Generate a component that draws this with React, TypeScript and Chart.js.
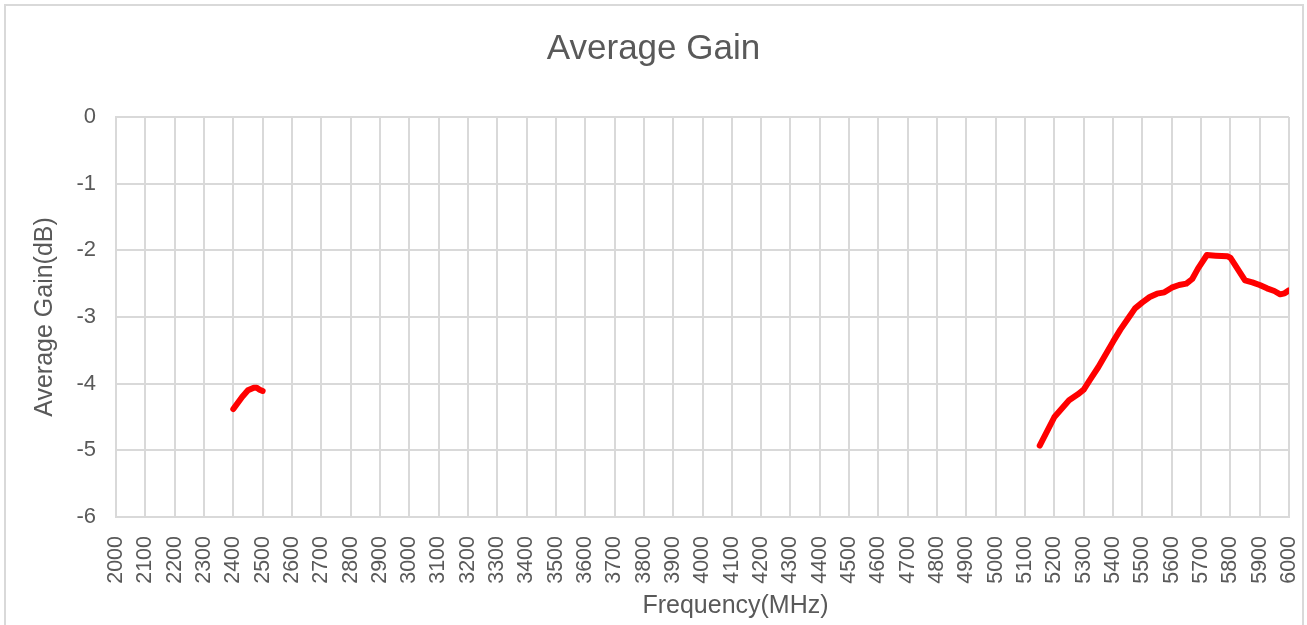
import React, { useEffect, useRef } from "react";
import { Chart, registerables } from "chart.js";

Chart.register(...registerables);

const CHART_TITLE = "Average Gain";
const X_TITLE = "Frequency(MHz)";
const Y_TITLE = "Average Gain(dB)";

const X_MIN = 2000;
const X_MAX = 6000;
const X_STEP = 100;
const Y_MIN = -6;
const Y_MAX = 0;
const Y_STEP = 1;

const band1Freq = [2400, 2430, 2450, 2470, 2480, 2490, 2500];
const band1Gain = [-4.38, -4.2, -4.1, -4.06, -4.06, -4.09, -4.11];

const band2Freq = [
  5150, 5200, 5250, 5280, 5300, 5320, 5350, 5400, 5425, 5450, 5475, 5500,
  5525, 5550, 5575, 5600, 5625, 5650, 5670, 5690, 5720, 5750, 5790, 5800,
  5850, 5875, 5900, 5925, 5950, 5970, 5985, 6000,
];
const band2Gain = [
  -4.93, -4.5, -4.25, -4.16, -4.09, -3.95, -3.75, -3.37, -3.19, -3.03, -2.87,
  -2.78, -2.7, -2.65, -2.63, -2.56, -2.52, -2.5, -2.43, -2.27, -2.07, -2.08,
  -2.09, -2.11, -2.45, -2.48, -2.52, -2.57, -2.61, -2.66, -2.645, -2.6,
];

const TEXT = "#595959";
const GRID = "#d9d9d9";
const FONT = "'Liberation Sans', Arial, sans-serif";

const toPoints = (xs: number[], ys: number[]) =>
  xs.map((x, i) => ({ x, y: ys[i] }));

export default function App() {
  const ref = useRef<HTMLCanvasElement | null>(null);

  useEffect(() => {
    if (!ref.current) return;
    const xTitlePlugin = {
      id: "xTitle",
      afterDraw(chart: any) {
        const { ctx, chartArea } = chart;
        ctx.save();
        ctx.fillStyle = TEXT;
        ctx.font = `25px ${FONT}`;
        ctx.textAlign = "center";
        ctx.textBaseline = "middle";
        ctx.fillText(
          X_TITLE,
          (chartArea.left + chartArea.right) / 2 + 33,
          chartArea.bottom + 89
        );
        ctx.restore();
      },
    };
    const lineStyle = {
      borderColor: "#ff0000",
      backgroundColor: "#ff0000",
      borderWidth: 6,
      pointRadius: 0,
      borderCapStyle: "round" as const,
      borderJoinStyle: "round" as const,
      tension: 0,
    };
    const chart = new Chart(ref.current, {
      type: "line",
      data: {
        datasets: [
          { data: toPoints(band1Freq, band1Gain), ...lineStyle },
          { data: toPoints(band2Freq, band2Gain), ...lineStyle },
        ],
      },
      options: {
        animation: false,
        responsive: false,
        maintainAspectRatio: false,
        layout: { padding: { left: 18, right: 18, top: 0, bottom: 0 } },
        plugins: {
          legend: { display: false },
          tooltip: { enabled: false },
          title: {
            display: true,
            text: CHART_TITLE,
            color: TEXT,
            font: { family: FONT, size: 35, weight: "normal" },
            padding: { top: 28, bottom: 47 },
          },
        },
        scales: {
          x: {
            type: "linear",
            min: X_MIN,
            max: X_MAX,
            afterFit: (s: any) => {
              s.height = 108;
              s.paddingLeft = 0;
              s.paddingRight = 0;
            },
            ticks: {
              stepSize: X_STEP,
              minRotation: 90,
              maxRotation: 90,
              autoSkip: false,
              color: TEXT,
              padding: 19,
              font: { family: FONT, size: 21.5 },
              callback: (v: any) => String(v),
            },
            grid: { color: GRID, lineWidth: 2, drawTicks: false },
            border: { display: true, color: GRID, width: 2 },
          },
          y: {
            min: Y_MIN,
            max: Y_MAX,
            afterFit: (s: any) => {
              s.width = 98;
              s.paddingTop = 0;
              s.paddingBottom = 0;
            },
            ticks: {
              stepSize: Y_STEP,
              color: TEXT,
              padding: 20,
              font: { family: FONT, size: 22 },
              callback: (v: any) => String(v),
            },
            grid: { color: GRID, lineWidth: 2, drawTicks: false },
            border: { display: true, color: GRID, width: 2 },
            title: {
              display: true,
              text: Y_TITLE,
              color: TEXT,
              font: { family: FONT, size: 25 },
              padding: { top: 12, bottom: 0 },
            },
          },
        },
      },
      plugins: [xTitlePlugin],
    });
    return () => chart.destroy();
  }, []);

  return (
    <div
      style={{
        position: "fixed",
        left: 0,
        top: 0,
        width: 1307,
        height: 625,
        background: "#ffffff",
        overflow: "hidden",
      }}
    >
      <div
        style={{
          position: "absolute",
          left: 4,
          top: 4,
          width: 1296,
          height: 660,
          border: `2px solid ${GRID}`,
        }}
      />
      <canvas
        ref={ref}
        width={1307}
        height={625}
        style={{ position: "absolute", left: 0, top: 0 }}
      />
    </div>
  );
}
